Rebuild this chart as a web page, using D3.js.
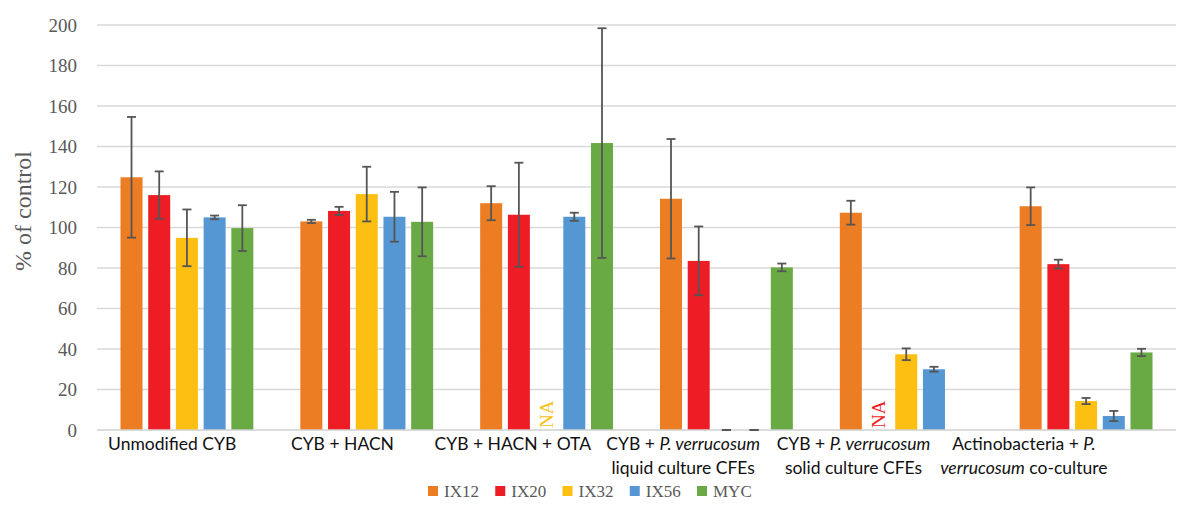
<!DOCTYPE html>
<html><head><meta charset="utf-8">
<script src="https://cdn.jsdelivr.net/npm/d3@7"></script>
<style>body{margin:0;background:#fff}svg{display:block}
.serif{font-family:"Liberation Serif","DejaVu Serif",serif}
</style>
</head><body><svg id="c" width="1201" height="508"></svg>
<script>
// ---- data ----
const categories = ["Unmodified CYB","CYB + HACN","CYB + HACN + OTA","CYB + P. verrucosum liquid culture CFEs","CYB + P. verrucosum solid culture CFEs","Actinobacteria + P. verrucosum co-culture"];
// label lines: [text, italic] segments per line
const categoryLabelLines = [
  [[["Unmodified CYB",false]]],
  [[["CYB + HACN",false]]],
  [[["CYB + HACN + OTA",false]]],
  [[["CYB + ",false],["P. verrucosum",true]],[["liquid culture CFEs",false]]],
  [[["CYB + ",false],["P. verrucosum",true]],[["solid culture CFEs",false]]],
  [[["Actinobacteria + ",false],["P.",true]],[["verrucosum",true],[" co-culture",false]]]
];
const seriesNames = ["IX12","IX20","IX32","IX56","MYC"];
const seriesColors = ["#ED7D22","#EE1D25","#FDBF12","#5597D3","#6AAA44"];
// "NA" = not available (labelled), null = no bar
const ix12 = [124.8, 103.0, 112.0, 114.2, 107.3, 110.5];
const ix20 = [116.0, 108.2, 106.3, 83.5, "NA", 81.9];
const ix32 = [94.9, 116.5, "NA", 0, 37.4, 14.3];
const ix56 = [105.0, 105.3, 105.3, 0, 30.0, 6.9];
const myc  = [99.7, 102.8, 141.7, 80.3, null, 38.3];
const ix12Err = [29.8, 0.8, 8.4, 29.5, 5.9, 9.3];
const ix20Err = [11.7, 2.0, 25.7, 17.0, null, 2.2];
const ix32Err = [14.0, 13.5, null, 0, 2.9, 1.5];
const ix56Err = [0.9, 12.3, 2.0, 0, 1.2, 2.5];
const mycErr  = [11.3, 17.0, 56.7, 1.9, null, 1.8];
const yTicks = [0,20,40,60,80,100,120,140,160,180,200];

const seriesValues = [ix12, ix20, ix32, ix56, myc];
const seriesErrors = [ix12Err, ix20Err, ix32Err, ix56Err, mycErr];

// ---- layout ----
const SERIF = '"Liberation Serif","DejaVu Serif",serif';
const svg = d3.select("#c");
const mLeft = 97, mRight = 1176, mTop = 25, mBottom = 430;
const y = d3.scaleLinear().domain([0,200]).range([mBottom, mTop]);
const x0 = d3.scaleBand().domain(categories).range([mLeft, mRight]);
const x1 = d3.scaleBand().domain(seriesNames).range([0, x0.bandwidth()]).paddingInner(0.206).paddingOuter(0.848);
const xLab = d3.scaleBand().domain(categories).range([87, 1109]);
const color = d3.scaleOrdinal().domain(seriesNames).range(seriesColors);

// gridlines
svg.append("g").selectAll("line").data(yTicks.filter(t=>t>0)).join("line")
  .attr("x1", mLeft).attr("x2", mRight).attr("y1", d=>y(d)).attr("y2", d=>y(d))
  .attr("stroke", "#D9D9D9").attr("stroke-width", 1.3);

// y axis labels
const yAxis = svg.append("g").attr("transform", `translate(${mLeft-20},0)`)
  .call(d3.axisLeft(y).tickValues(yTicks).tickSize(0).tickPadding(0));
yAxis.select(".domain").remove();
yAxis.style("font-family", SERIF).style("font-size","19px");
yAxis.selectAll("text").style("font-family", SERIF).style("font-size","19px").attr("fill","#595959");

// y title
svg.append("text").attr("transform", "translate(31,211) rotate(-90)")
  .attr("text-anchor","middle").style("font-family", SERIF).style("font-size","24px").attr("fill","#595959").text("% of control");

// bars
const flat = [];
categories.forEach((c,i)=>seriesNames.forEach((s,j)=>{
  flat.push({cat:c, ser:s, v:seriesValues[j][i], e:seriesErrors[j][i]});
}));
const g = svg.append("g");
const numeric = flat.filter(d=>typeof d.v === "number");
g.selectAll("rect").data(numeric.filter(d=>d.v>0)).join("rect")
  .attr("x", d=>x0(d.cat)+x1(d.ser)).attr("width", x1.bandwidth())
  .attr("y", d=>y(d.v)).attr("height", d=>y(0)-y(d.v))
  .attr("fill", d=>color(d.ser));

// x axis line
svg.append("line").attr("x1", mLeft).attr("x2", mRight).attr("y1", y(0)).attr("y2", y(0))
  .attr("stroke","#D0D0D0").attr("stroke-width",1.5);

// error bars
const eb = svg.append("g").attr("stroke","#555").attr("stroke-width",1.8).attr("fill","none");
numeric.filter(d=>d.e!==null).forEach(d=>{
  const cx = x0(d.cat)+x1(d.ser)+x1.bandwidth()/2;
  const y1 = y(d.v+d.e), y2 = y(d.v-d.e);
  if (d.e>0) eb.append("line").attr("x1",cx).attr("x2",cx).attr("y1",y1).attr("y2",y2);
  eb.append("line").attr("x1",cx-4.5).attr("x2",cx+4.5).attr("y1",y1).attr("y2",y1);
  eb.append("line").attr("x1",cx-4.5).attr("x2",cx+4.5).attr("y1",y2).attr("y2",y2);
});

// NA labels
svg.append("g").selectAll("text").data(flat.filter(d=>d.v==="NA")).join("text")
  .attr("transform", d=>`translate(${x0(d.cat)+x1(d.ser)+x1.bandwidth()/2+6},${y(0)-2}) rotate(-90)`)
  .style("font-family", SERIF).style("font-size","19px").attr("fill", d=>color(d.ser)).text("NA");

// category labels
const cl = svg.append("g").style("font-family","Lato, 'Open Sans', sans-serif").style("font-size","17.5px").attr("fill","#111").attr("text-anchor","middle");
categories.forEach((c,i)=>{
  categoryLabelLines[i].forEach((line,li)=>{
    const t = cl.append("text").attr("x", xLab(c)+xLab.bandwidth()/2).attr("y", 450+li*24);
    line.forEach(([txt,it])=>t.append("tspan").style("font-style", it?"italic":"normal").text(txt));
  });
});

// legend
const lg = svg.append("g").style("font-family", SERIF).style("font-size","17px").attr("fill","#595959");
const legendX = d3.scalePoint().domain(seriesNames).range([428, 697]);
seriesNames.forEach(s=>{
  lg.append("rect").attr("x", legendX(s)).attr("y", 486).attr("width",10).attr("height",10).attr("fill", color(s));
  lg.append("text").attr("x", legendX(s)+16).attr("y", 497).text(s);
});
</script></body></html>
